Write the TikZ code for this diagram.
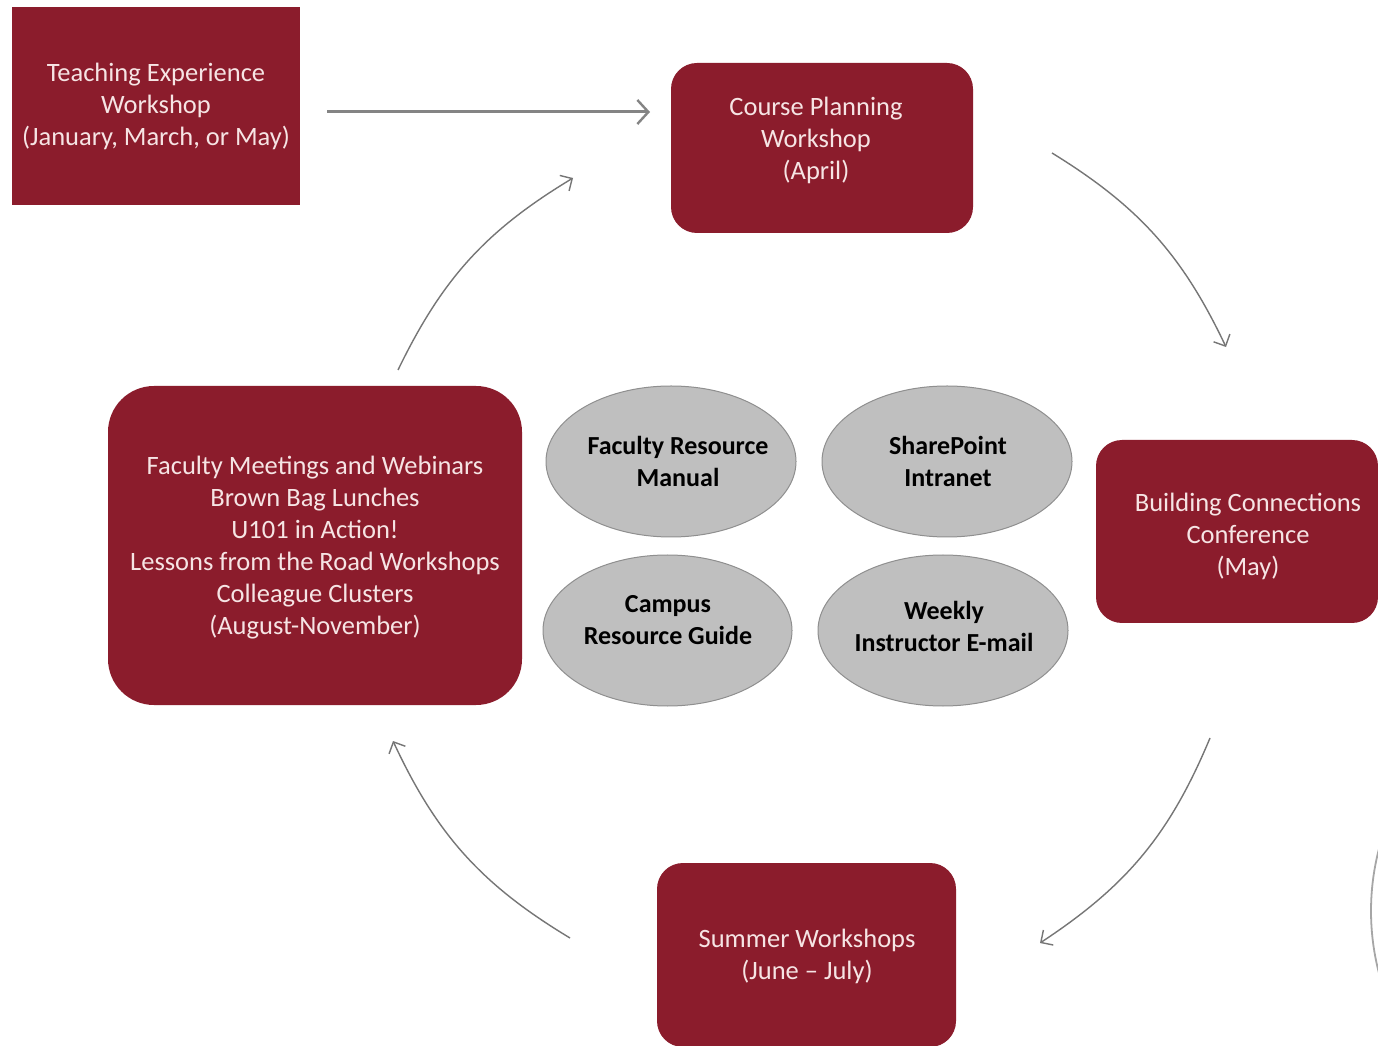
\documentclass[tikz,border=0pt]{standalone}
\usepackage{fontspec}
\setmainfont{Carlito}
\usetikzlibrary{shapes.geometric,arrows.meta}
\definecolor{boxred}{HTML}{8B1C2C}
\definecolor{boxtxt}{HTML}{F6E4E4}
\definecolor{ovalfill}{HTML}{BFBFBF}
\definecolor{ovalline}{HTML}{8F8F8F}
\definecolor{arrowgray}{HTML}{767676}
\tikzset{
  x=1pt,y=1pt,
  redbox/.style={fill=boxred, draw=none, inner sep=0pt},
  redtext/.style={text=boxtxt, align=center, font=\fontsize{26.5}{32}\selectfont, inner sep=0pt},
  oval/.style={ellipse, fill=ovalfill, draw=ovalline, line width=1pt, inner sep=0pt},
  ovaltext/.style={text=black, align=center, font=\fontsize{26}{32}\selectfont\bfseries, inner sep=0pt},
  flowarrow/.style={draw=arrowgray, line width=1.4pt, -{Straight Barb[length=9pt,width=18pt,line width=1.4pt]}},
  mainarrow/.style={draw=arrowgray!90, line width=3pt, -{Straight Barb[length=11pt,width=24pt,line width=2.4pt]}}
}
\begin{document}
\begin{tikzpicture}
\useasboundingbox (0,0) rectangle (1378,1045);
\clip (0,0) rectangle (1378,1045);
\fill[white] (0,0) rectangle (1378,1045);

% red boxes
\node[redbox, minimum width=288, minimum height=198] (teach) at (156,939) {};
\node[redtext] (teacht) at (156,939) {Teaching Experience\\Workshop\\(January, March, or May)};

\node[redbox, rounded corners=26pt, minimum width=302, minimum height=170] (course) at (822,897) {};
\node[redtext] (courset) at (816,905) {Course Planning\\Workshop\\(April)};

\node[redbox, rounded corners=26pt, minimum width=282, minimum height=183] (build) at (1237,513.5) {};
\node[redtext] (buildt) at (1248,509) {Building Connections\\Conference\\(May)};

\node[redbox, rounded corners=26pt, minimum width=299, minimum height=184] (summer) at (806.5,90) {};
\node[redtext] (summert) at (807,89) {Summer Workshops\\(June -- July)};

\node[redbox, rounded corners=46pt, minimum width=414, minimum height=319] (faculty) at (315,499.5) {};
\node[redtext] (facultyt) at (315,497.5) {Faculty Meetings and Webinars\\Brown Bag Lunches\\U101 in Action!\\Lessons from the Road Workshops\\Colleague Clusters\\(August-November)};

% grey ovals
\node[oval, minimum width=250, minimum height=151] (frm) at (671,583.5) {};
\node[ovaltext] (frmt) at (678,583.5) {Faculty Resource\\Manual};

\node[oval, minimum width=250, minimum height=151] (sp) at (947,583.5) {};
\node[ovaltext] (spt) at (948,583.5) {SharePoint\\Intranet};

\node[oval, minimum width=249, minimum height=151] (crg) at (667.5,414.5) {};
\node[ovaltext] (crgt) at (668,425) {Campus\\Resource Guide};

\node[oval, minimum width=250, minimum height=151] (wie) at (943,414.5) {};
\node[ovaltext] (wiet) at (944,418.5) {Weekly\\Instructor E-mail};

% arrow end points
\coordinate (a1s) at (327,933);
\coordinate (a1e) at (650,933);
\coordinate (a2s) at (1052,892);
\coordinate (a2e) at (1226,698);
\coordinate (a3s) at (1210,307);
\coordinate (a3e) at (1040,102);
\coordinate (a4s) at (570,107);
\coordinate (a4e) at (393,304);
\coordinate (a5s) at (398,675);
\coordinate (a5e) at (573,867);

\draw[mainarrow] (a1s) -- (a1e);
\draw[flowarrow] (a2s) to[bend left=16.5] (a2e);
\draw[flowarrow] (a3s) to[bend left=17] (a3e);
\draw[flowarrow] (a4s) to[bend left=17] (a4e);
\draw[flowarrow] (a5s) to[bend left=16.5] (a5e);

% partial circle at right edge
\coordinate (pc) at (1615,134);
\draw[draw=gray!70, line width=1.8pt] (pc) circle[radius=244];
\end{tikzpicture}
\end{document}
